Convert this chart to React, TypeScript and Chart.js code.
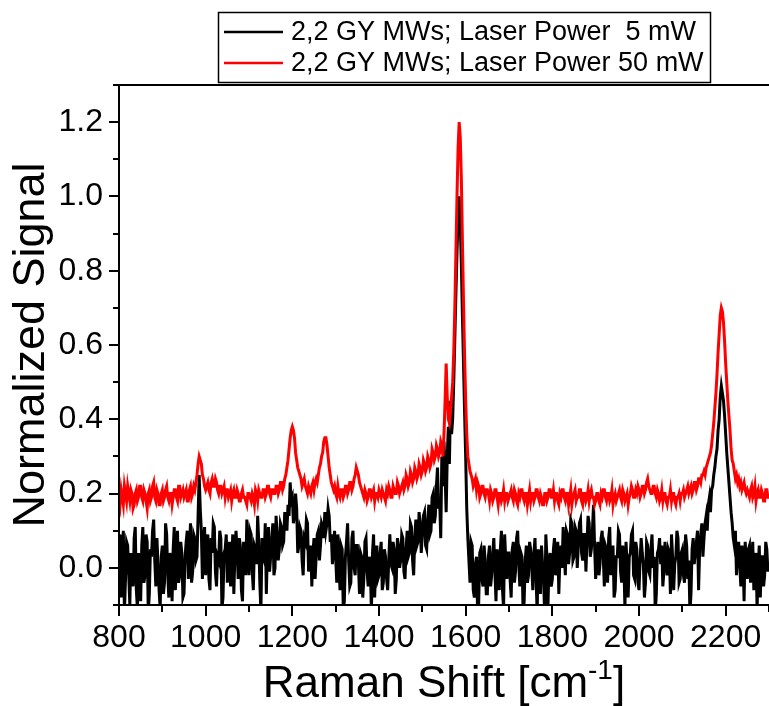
import React, { useEffect, useRef } from "react";
import { Chart, registerables } from "chart.js";

Chart.register(...registerables);

// Raman shift sampling of the spectra (cm^-1)
const SHIFT_START = 800;
const SHIFT_STEP = 2.5;

// 2,2 GY MWs, laser power 5 mW (normalized signal), 800 ... 2300 cm^-1, one row per 50 cm^-1
const signal5mW = [
  0.05, 0.09, -0.08, 0.03, 0.10, -0.12, -0.03, 0.07, 0.06, -0.02, -0.10, 0.04, 0.02, -0.05, 0.08, 0.11, -0.06, -0.11, 0.04, 0.00,
  -0.09, 0.06, 0.11, -0.04, -0.02, 0.09, 0.07, -0.12, -0.07, 0.05, 0.03, 0.10, 0.13, 0.02, -0.05, 0.08, 0.01, -0.06, -0.11, 0.03,
  0.06, -0.07, -0.04, 0.12, 0.09, -0.02, -0.08, 0.04, 0.02, -0.09, 0.05, 0.11, -0.06, 0.01, 0.10, -0.04, -0.02, 0.07, 0.04, -0.08,
  -0.07, 0.03, 0.07, 0.10, -0.03, 0.05, 0.12, -0.04, -0.01, 0.09, 0.08, 0.02, 0.03, 0.14, 0.25, 0.16, 0.10, -0.03, 0.06, 0.11,
  -0.02, 0.06, 0.09, -0.03, -0.06, 0.08, 0.04, 0.12, 0.11, -0.01, -0.05, 0.03, 0.02, 0.10, 0.08, -0.11, -0.08, 0.04, 0.05, 0.09,
  -0.04, 0.02, 0.07, -0.05, 0.01, 0.09, -0.07, 0.04, 0.10, 0.05, -0.03, 0.08, 0.06, -0.06, -0.09, 0.07, 0.03, -0.02, 0.13, 0.04,
  -0.02, 0.10, 0.09, -0.01, -0.06, 0.06, 0.05, 0.01, 0.14, 0.07, -0.04, -0.12, 0.08, 0.03, 0.02, 0.12, -0.07, 0.05, 0.11, -0.01,
  0.03, 0.08, 0.12, -0.02, 0.00, 0.14, 0.09, 0.02, 0.05, 0.12, 0.11, 0.06, 0.07, 0.15, 0.13, 0.10, 0.17, 0.14, 0.23, 0.18,
  0.19, 0.12, 0.14, 0.20, 0.16, 0.04, 0.06, 0.11, 0.10, 0.02, -0.02, 0.08, 0.07, 0.13, 0.12, -0.01, 0.01, 0.06, -0.05, 0.04,
  0.08, -0.03, 0.03, 0.09, 0.10, 0.02, 0.06, 0.12, 0.11, 0.08, 0.15, 0.10, 0.12, 0.16, 0.14, 0.07, 0.09, 0.01, 0.05, 0.10,
  0.03, -0.04, 0.09, 0.02, -0.06, 0.06, 0.05, -0.11, -0.09, 0.03, 0.07, 0.12, 0.02, -0.05, -0.04, 0.08, 0.10, 0.00, -0.02, 0.06,
  0.06, 0.01, -0.07, 0.04, 0.03, -0.08, -0.03, 0.07, 0.08, -0.01, -0.05, 0.03, 0.01, -0.12, 0.04, 0.09, -0.08, 0.02, 0.06, -0.03,
  -0.02, 0.04, 0.07, -0.06, -0.04, 0.05, 0.03, -0.03, -0.06, 0.02, 0.09, 0.01, 0.00, 0.07, 0.05, -0.07, -0.03, 0.08, 0.06, 0.00,
  0.02, 0.09, 0.08, -0.01, -0.03, 0.05, 0.10, 0.03, 0.04, 0.12, 0.11, 0.02, -0.02, 0.08, 0.13, 0.06, 0.07, 0.15, 0.12, 0.04,
  0.09, 0.14, 0.15, 0.06, 0.05, 0.13, 0.17, 0.09, 0.10, 0.19, 0.20, 0.12, 0.14, 0.22, 0.27, 0.16, 0.18, 0.08, 0.30, 0.22,
  0.34, 0.25, 0.15, 0.30, 0.38, 0.28, 0.45, 0.36, 0.40, 0.50, 0.62, 0.74, 0.85, 0.95, 1.00, 0.93, 0.82, 0.68, 0.55, 0.42,
  0.30, 0.16, 0.08, 0.02, -0.04, 0.07, 0.06, -0.06, -0.08, 0.01, 0.03, -0.12, -0.10, 0.04, 0.05, -0.03, -0.05, 0.06, 0.02, -0.07,
  -0.07, 0.03, 0.06, -0.05, -0.02, 0.04, 0.08, -0.01, -0.09, 0.05, 0.01, -0.06, 0.05, 0.10, -0.06, -0.11, 0.09, 0.02, -0.03, 0.04,
  0.04, -0.03, -0.08, 0.05, 0.07, -0.04, -0.01, 0.08, 0.10, 0.01, -0.05, 0.04, 0.03, -0.12, -0.09, 0.02, 0.06, -0.04, -0.02, 0.07,
  0.05, 0.00, -0.06, 0.04, 0.08, -0.03, -0.12, 0.05, 0.02, -0.07, 0.06, 0.01, -0.04, -0.13, 0.09, 0.03, -0.10, 0.02, 0.04, -0.05,
  -0.03, 0.05, 0.08, -0.02, 0.01, 0.07, -0.07, 0.03, 0.06, 0.00, 0.11, 0.04, -0.02, 0.10, 0.09, 0.01, 0.04, 0.13, 0.12, 0.02,
  0.03, 0.11, 0.10, 0.00, 0.06, 0.12, 0.13, 0.04, 0.02, 0.09, 0.09, -0.01, 0.07, 0.14, 0.12, 0.03, 0.05, 0.10, 0.17, 0.06,
  -0.03, 0.04, 0.07, -0.02, 0.01, 0.08, 0.10, 0.03, -0.05, 0.06, 0.05, -0.04, 0.08, 0.11, -0.02, 0.04, 0.06, -0.08, -0.06, 0.03,
  0.03, 0.10, 0.09, -0.01, -0.04, 0.06, 0.02, -0.11, 0.07, 0.01, -0.08, 0.03, 0.04, 0.09, 0.10, -0.02, -0.03, 0.07, 0.05, -0.04,
  -0.06, 0.02, 0.08, 0.04, 0.01, -0.08, -0.04, 0.07, 0.06, -0.01, -0.02, 0.05, 0.09, 0.00, 0.03, -0.12, -0.07, 0.04, 0.05, 0.08,
  0.01, 0.06, -0.05, -0.01, 0.07, 0.02, -0.02, 0.05, 0.04, -0.07, 0.09, 0.03, -0.06, 0.01, 0.03, 0.10, 0.08, -0.04, -0.03, 0.04,
  0.05, -0.02, -0.04, 0.09, 0.06, -0.03, 0.02, -0.12, -0.07, 0.05, 0.08, 0.01, 0.04, 0.07, 0.10, -0.06, 0.05, 0.09, 0.12, 0.03,
  0.08, 0.12, 0.14, 0.10, 0.17, 0.19, 0.15, 0.21, 0.22, 0.25, 0.27, 0.30, 0.32, 0.37, 0.40, 0.46, 0.49, 0.47, 0.45, 0.41,
  0.36, 0.31, 0.27, 0.23, 0.19, 0.15, 0.12, 0.08, 0.06, 0.10, -0.02, 0.04, 0.07, 0.01, -0.05, 0.06, 0.03, -0.09, 0.07, 0.02,
  -0.03, 0.05, 0.06, -0.04, 0.01, 0.07, -0.06, 0.02, 0.04, -0.11, 0.00, 0.06, -0.08, 0.03, 0.03, -0.05, -0.02, 0.07, 0.05, -0.01,
  0.01,
];

// 2,2 GY MWs, laser power 50 mW (normalized signal), 800 ... 2300 cm^-1, one row per 50 cm^-1
const signal50mW = [
  0.19, 0.17, 0.21, 0.19, 0.17, 0.22, 0.20, 0.18, 0.22, 0.20, 0.18, 0.21, 0.20, 0.16, 0.17, 0.20, 0.21, 0.18, 0.19, 0.22,
  0.22, 0.19, 0.18, 0.21, 0.20, 0.18, 0.16, 0.20, 0.21, 0.18, 0.19, 0.22, 0.23, 0.19, 0.18, 0.21, 0.20, 0.17, 0.17, 0.20,
  0.21, 0.18, 0.19, 0.21, 0.22, 0.19, 0.18, 0.20, 0.20, 0.17, 0.19, 0.21, 0.21, 0.19, 0.18, 0.22, 0.22, 0.19, 0.20, 0.21,
  0.19, 0.20, 0.21, 0.18, 0.18, 0.21, 0.22, 0.19, 0.20, 0.22, 0.21, 0.23, 0.25, 0.28, 0.30, 0.29, 0.28, 0.25, 0.24, 0.22,
  0.21, 0.22, 0.23, 0.21, 0.20, 0.23, 0.24, 0.22, 0.22, 0.24, 0.23, 0.21, 0.20, 0.22, 0.22, 0.20, 0.21, 0.22, 0.19, 0.21,
  0.21, 0.19, 0.20, 0.21, 0.18, 0.20, 0.21, 0.19, 0.19, 0.21, 0.20, 0.18, 0.18, 0.20, 0.21, 0.19, 0.19, 0.18, 0.17, 0.20,
  0.20, 0.19, 0.18, 0.20, 0.19, 0.17, 0.21, 0.20, 0.18, 0.21, 0.20, 0.19, 0.19, 0.21, 0.21, 0.19, 0.20, 0.22, 0.22, 0.20,
  0.19, 0.21, 0.21, 0.20, 0.20, 0.22, 0.22, 0.20, 0.21, 0.23, 0.23, 0.21, 0.22, 0.24, 0.25, 0.27, 0.29, 0.32, 0.35, 0.37,
  0.38, 0.37, 0.35, 0.31, 0.29, 0.27, 0.26, 0.25, 0.24, 0.22, 0.23, 0.24, 0.22, 0.21, 0.20, 0.22, 0.21, 0.20, 0.22, 0.23,
  0.21, 0.23, 0.24, 0.23, 0.25, 0.27, 0.28, 0.30, 0.31, 0.34, 0.35, 0.35, 0.33, 0.30, 0.27, 0.25, 0.23, 0.22, 0.21, 0.22,
  0.20, 0.19, 0.22, 0.20, 0.19, 0.21, 0.21, 0.19, 0.20, 0.22, 0.22, 0.20, 0.21, 0.23, 0.23, 0.21, 0.22, 0.24, 0.25, 0.27,
  0.26, 0.25, 0.23, 0.22, 0.21, 0.20, 0.19, 0.21, 0.20, 0.18, 0.19, 0.21, 0.21, 0.19, 0.20, 0.21, 0.18, 0.20, 0.20, 0.19,
  0.21, 0.20, 0.19, 0.21, 0.20, 0.19, 0.18, 0.21, 0.20, 0.22, 0.21, 0.19, 0.19, 0.22, 0.21, 0.20, 0.20, 0.23, 0.22, 0.20,
  0.21, 0.22, 0.23, 0.21, 0.22, 0.25, 0.24, 0.22, 0.23, 0.26, 0.25, 0.23, 0.24, 0.27, 0.26, 0.24, 0.25, 0.28, 0.27, 0.25,
  0.26, 0.29, 0.28, 0.26, 0.27, 0.30, 0.29, 0.27, 0.28, 0.32, 0.31, 0.29, 0.30, 0.33, 0.32, 0.30, 0.31, 0.34, 0.33, 0.30,
  0.36, 0.45, 0.55, 0.46, 0.40, 0.39, 0.42, 0.46, 0.50, 0.58, 0.70, 0.85, 1.00, 1.13, 1.20, 1.16, 1.05, 0.88, 0.72, 0.57,
  0.45, 0.36, 0.30, 0.28, 0.26, 0.25, 0.24, 0.22, 0.23, 0.24, 0.21, 0.23, 0.22, 0.19, 0.20, 0.22, 0.22, 0.20, 0.19, 0.21,
  0.21, 0.20, 0.18, 0.21, 0.20, 0.18, 0.19, 0.21, 0.21, 0.19, 0.17, 0.20, 0.20, 0.18, 0.19, 0.21, 0.18, 0.20, 0.20, 0.18,
  0.19, 0.20, 0.21, 0.19, 0.18, 0.21, 0.20, 0.18, 0.17, 0.20, 0.19, 0.21, 0.21, 0.19, 0.18, 0.20, 0.20, 0.17, 0.19, 0.21,
  0.18, 0.20, 0.20, 0.18, 0.19, 0.21, 0.21, 0.19, 0.18, 0.20, 0.19, 0.17, 0.17, 0.20, 0.20, 0.18, 0.19, 0.21, 0.21, 0.19,
  0.19, 0.21, 0.18, 0.20, 0.20, 0.18, 0.17, 0.20, 0.19, 0.21, 0.21, 0.19, 0.18, 0.20, 0.20, 0.17, 0.19, 0.21, 0.17, 0.19,
  0.20, 0.21, 0.18, 0.19, 0.19, 0.21, 0.21, 0.18, 0.17, 0.20, 0.20, 0.18, 0.19, 0.21, 0.18, 0.20, 0.21, 0.19, 0.19, 0.17,
  0.18, 0.20, 0.20, 0.18, 0.17, 0.20, 0.19, 0.21, 0.21, 0.19, 0.18, 0.20, 0.20, 0.18, 0.19, 0.21, 0.17, 0.19, 0.20, 0.18,
  0.19, 0.20, 0.21, 0.19, 0.18, 0.21, 0.20, 0.18, 0.19, 0.20, 0.17, 0.19, 0.20, 0.22, 0.21, 0.19, 0.19, 0.21, 0.20, 0.22,
  0.21, 0.19, 0.20, 0.22, 0.22, 0.20, 0.21, 0.23, 0.24, 0.22, 0.21, 0.20, 0.20, 0.22, 0.22, 0.20, 0.19, 0.21, 0.20, 0.18,
  0.19, 0.21, 0.18, 0.20, 0.20, 0.18, 0.17, 0.19, 0.19, 0.21, 0.18, 0.20, 0.20, 0.18, 0.17, 0.19, 0.19, 0.20, 0.18, 0.20,
  0.20, 0.21, 0.19, 0.20, 0.21, 0.22, 0.20, 0.21, 0.22, 0.20, 0.21, 0.23, 0.23, 0.21, 0.22, 0.24, 0.24, 0.23, 0.25, 0.25,
  0.26, 0.25, 0.27, 0.28, 0.29, 0.30, 0.31, 0.33, 0.36, 0.39, 0.43, 0.47, 0.52, 0.58, 0.63, 0.68, 0.70, 0.69, 0.66, 0.61,
  0.55, 0.50, 0.45, 0.41, 0.37, 0.32, 0.29, 0.28, 0.26, 0.24, 0.25, 0.23, 0.24, 0.22, 0.23, 0.21, 0.22, 0.23, 0.21, 0.20,
  0.21, 0.20, 0.19, 0.21, 0.22, 0.19, 0.20, 0.22, 0.18, 0.20, 0.21, 0.19, 0.19, 0.21, 0.20, 0.18, 0.18, 0.21, 0.21, 0.19,
  0.19,
];

const seriesLabels = [
  "2,2 GY MWs; Laser Power  5 mW",
  "2,2 GY MWs; Laser Power 50 mW",
];
const seriesColors = ["#000000", "#ff0000"];

const xMajorTicks = [800, 1000, 1200, 1400, 1600, 1800, 2000, 2200];
const yMajorTicks = [0.0, 0.2, 0.4, 0.6, 0.8, 1.0, 1.2];
const X_MIN = 800;
const X_MAX = 2300;
const Y_MIN = -0.1;
const Y_MAX = 1.3;

const xTitleMain = "Raman Shift [cm";
const xTitleSup = "-1";
const xTitleEnd = "]";
const yTitle = "Normalized Signal";

const FONT = 'Arial, "Liberation Sans", sans-serif';

const decorPlugin = {
  id: "decor",
  afterDraw(chart: any) {
    const { ctx, chartArea: a } = chart;
    const xs = chart.scales.x;
    const ys = chart.scales.y;
    ctx.save();
    ctx.strokeStyle = "#000";
    ctx.fillStyle = "#000";
    ctx.lineWidth = 2;
    ctx.lineCap = "butt";

    // axes lines + top frame
    ctx.beginPath();
    ctx.moveTo(a.left, a.top);
    ctx.lineTo(a.right + 2, a.top);
    ctx.moveTo(a.left, a.top - 1);
    ctx.lineTo(a.left, a.bottom + 1);
    ctx.moveTo(a.left - 1, a.bottom);
    ctx.lineTo(a.right + 2, a.bottom);
    ctx.stroke();

    // x ticks (major every 200, minor every 100)
    ctx.beginPath();
    for (let k = 0; k <= (X_MAX - X_MIN) / 100; k++) {
      const v = X_MIN + k * 100;
      const px = Math.round(xs.getPixelForValue(v));
      const len = xMajorTicks.includes(v) ? 11 : 7;
      ctx.moveTo(px, a.bottom);
      ctx.lineTo(px, a.bottom + len);
    }
    // y ticks (major every 0.2, minor every 0.1)
    for (let k = -1; k <= 13; k++) {
      const v = k / 10;
      const py = Math.round(ys.getPixelForValue(v));
      const major = k >= 0 && k <= 12 && k % 2 === 0;
      const len = major ? 10 : 6;
      ctx.moveTo(a.left, py);
      ctx.lineTo(a.left - len, py);
    }
    ctx.stroke();

    // y title
    ctx.save();
    ctx.translate(44, (a.top + a.bottom) / 2);
    ctx.rotate(-Math.PI / 2);
    ctx.font = `45px ${FONT}`;
    ctx.textAlign = "center";
    ctx.textBaseline = "alphabetic";
    ctx.fillText(yTitle, 0, 0);
    ctx.restore();

    // x title with superscript
    const mainFont = `44px ${FONT}`;
    const supFont = `28px ${FONT}`;
    ctx.font = mainFont;
    const w1 = ctx.measureText(xTitleMain).width;
    const w3 = ctx.measureText(xTitleEnd).width;
    ctx.font = supFont;
    const w2 = ctx.measureText(xTitleSup).width;
    const total = w1 + w2 + w3;
    let tx = (a.left + a.right) / 2 - total / 2;
    const base = 697;
    ctx.textAlign = "left";
    ctx.textBaseline = "alphabetic";
    ctx.font = mainFont;
    ctx.fillText(xTitleMain, tx, base);
    tx += w1;
    ctx.font = supFont;
    ctx.fillText(xTitleSup, tx, base - 18);
    tx += w2;
    ctx.font = mainFont;
    ctx.fillText(xTitleEnd, tx, base);

    // legend box
    const lx = 218.5;
    const ly = 12.5;
    const lw = 492;
    const lh = 70;
    ctx.fillStyle = "#fff";
    ctx.fillRect(lx, ly, lw, lh);
    ctx.lineWidth = 1.5;
    ctx.strokeStyle = "#000";
    ctx.strokeRect(lx, ly, lw, lh);
    ctx.font = `27px ${FONT}`;
    ctx.textBaseline = "middle";
    ctx.textAlign = "left";
    const ds = chart.data.datasets;
    const rows = [32, 63];
    ds.forEach((d: any, i: number) => {
      const yy = rows[i];
      ctx.strokeStyle = d.borderColor;
      ctx.lineWidth = 2.5;
      ctx.beginPath();
      ctx.moveTo(224, yy);
      ctx.lineTo(283, yy);
      ctx.stroke();
      ctx.fillStyle = "#000";
      ctx.fillText(d.label, 291, yy + 1);
    });

    ctx.restore();
  },
};

export default function App() {
  const ref = useRef<HTMLCanvasElement | null>(null);

  useEffect(() => {
    if (!ref.current) return;
    const toPoints = (arr: number[]) =>
      arr.map((v, i) => ({ x: SHIFT_START + i * SHIFT_STEP, y: v }));

    const chart = new Chart(ref.current, {
      type: "line",
      data: {
        datasets: [
          {
            label: seriesLabels[0],
            data: toPoints(signal5mW),
            borderColor: seriesColors[0],
            backgroundColor: seriesColors[0],
            borderWidth: 3,
            pointRadius: 0,
            tension: 0,
            order: 1,
          },
          {
            label: seriesLabels[1],
            data: toPoints(signal50mW),
            borderColor: seriesColors[1],
            backgroundColor: seriesColors[1],
            borderWidth: 3,
            pointRadius: 0,
            tension: 0,
            order: 0,
          },
        ],
      },
      options: {
        responsive: false,
        animation: false,
        devicePixelRatio: 1,
        layout: { padding: { top: 85, right: 0, left: 0, bottom: 0 } },
        plugins: {
          legend: { display: false },
          tooltip: { enabled: false },
        },
        scales: {
          x: {
            type: "linear",
            min: X_MIN,
            max: X_MAX,
            grid: { display: false, drawTicks: false },
            border: { display: false },
            afterBuildTicks: (scale: any) => {
              scale.ticks = xMajorTicks.map((v) => ({ value: v }));
            },
            afterFit: (scale: any) => {
              scale.height = 101;
              scale.paddingLeft = 0;
              scale.paddingRight = 0;
            },
            ticks: {
              color: "#000",
              font: { family: FONT, size: 32 },
              padding: 14,
              maxRotation: 0,
              autoSkip: false,
              callback: (v: any) => String(v),
            },
          },
          y: {
            type: "linear",
            min: Y_MIN,
            max: Y_MAX,
            grid: { display: false, drawTicks: false },
            border: { display: false },
            afterBuildTicks: (scale: any) => {
              scale.ticks = yMajorTicks.map((v) => ({ value: v }));
            },
            afterFit: (scale: any) => {
              scale.width = 119;
              scale.paddingTop = 0;
              scale.paddingBottom = 0;
            },
            ticks: {
              color: "#000",
              font: { family: FONT, size: 32 },
              padding: 16,
              autoSkip: false,
              callback: (v: any) => Number(v).toFixed(1),
            },
          },
        },
      },
      plugins: [decorPlugin],
    });
    return () => chart.destroy();
  }, []);

  return (
    <div style={{ position: "absolute", left: 0, top: 0, width: 769, height: 706 }}>
      <canvas ref={ref} width={769} height={706} style={{ display: "block" }} />
    </div>
  );
}
